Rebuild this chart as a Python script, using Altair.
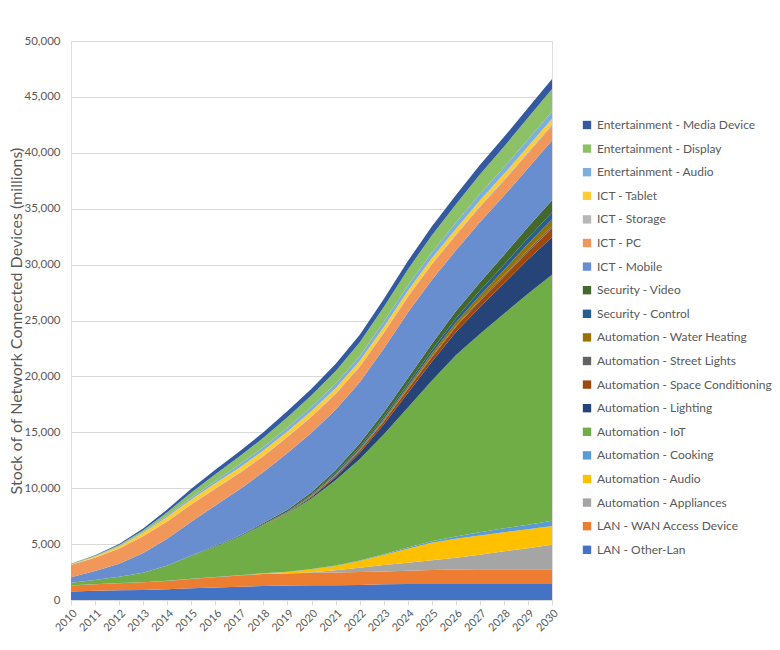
import altair as alt
import pandas as pd

years = list(range(2010, 2031))

lan_other = [750, 820, 870, 900, 960, 1040, 1110, 1180, 1260, 1290, 1310, 1320, 1340, 1400, 1420, 1430, 1430, 1430, 1430, 1430, 1430]
lan_wan = [550, 580, 630, 680, 740, 830, 930, 1010, 1070, 1090, 1130, 1140, 1160, 1160, 1200, 1250, 1290, 1310, 1330, 1330, 1330]
auto_appliances = [0, 0, 0, 0, 0, 0, 0, 0, 0, 0, 50, 200, 380, 560, 720, 880, 1050, 1300, 1600, 1880, 2180]
auto_audio = [0, 0, 0, 0, 0, 0, 0, 0, 30, 120, 250, 380, 600, 900, 1250, 1550, 1700, 1720, 1700, 1680, 1670]
auto_cooking = [10, 10, 10, 15, 15, 20, 20, 25, 30, 30, 40, 50, 60, 80, 110, 150, 220, 290, 350, 420, 470]
auto_iot = [240, 380, 570, 845, 1355, 2040, 2700, 3415, 4310, 5210, 6300, 7620, 9060, 10700, 12500, 14340, 16210, 17750, 19190, 20660, 22020]
auto_lighting = [0, 0, 0, 0, 0, 0, 0, 0, 10, 30, 120, 280, 550, 900, 1300, 1700, 2050, 2400, 2700, 3050, 3350]
auto_space = [0, 0, 0, 0, 0, 0, 0, 0, 10, 40, 80, 130, 190, 250, 320, 390, 460, 540, 620, 710, 800]
auto_street = [0, 0, 0, 0, 0, 0, 0, 0, 0, 10, 20, 30, 40, 55, 65, 80, 90, 105, 120, 135, 150]
auto_water = [0, 0, 0, 0, 0, 0, 0, 0, 0, 20, 40, 70, 110, 160, 210, 270, 330, 400, 480, 560, 650]
sec_control = [0, 0, 0, 0, 0, 20, 30, 40, 60, 80, 100, 130, 170, 210, 250, 300, 350, 410, 470, 530, 600]
sec_video = [0, 0, 0, 0, 20, 40, 60, 80, 110, 150, 200, 260, 330, 400, 480, 560, 650, 750, 860, 980, 1100]
ict_mobile = [490, 800, 1170, 1760, 2390, 3000, 3600, 4140, 4550, 5080, 5330, 5400, 5460, 5690, 5870, 5720, 5430, 5390, 5300, 5250, 5350]
ict_pc = [1100, 1200, 1350, 1500, 1550, 1550, 1500, 1450, 1420, 1420, 1420, 1410, 1400, 1400, 1390, 1380, 1370, 1360, 1360, 1350, 1350]
ict_storage = [10, 10, 15, 20, 25, 30, 35, 40, 45, 50, 55, 60, 65, 70, 75, 80, 85, 90, 95, 100, 100]
ict_tablet = [30, 80, 180, 300, 380, 430, 450, 460, 460, 460, 460, 460, 460, 470, 470, 480, 480, 490, 490, 500, 500]
ent_audio = [20, 30, 50, 80, 120, 170, 220, 270, 320, 350, 380, 400, 430, 460, 490, 520, 550, 580, 600, 630, 650]
ent_display = [20, 40, 80, 150, 300, 450, 600, 720, 820, 920, 1020, 1120, 1220, 1320, 1420, 1530, 1640, 1750, 1850, 1930, 2000]
ent_media = [30, 50, 80, 150, 250, 330, 400, 450, 500, 550, 600, 640, 680, 720, 760, 790, 820, 840, 860, 880, 900]

# bottom-to-top stacking order
series_names = [
    "LAN - Other-Lan", "LAN - WAN Access Device", "Automation - Appliances",
    "Automation - Audio", "Automation - Cooking", "Automation - IoT",
    "Automation - Lighting", "Automation - Space Conditioning",
    "Automation - Street Lights", "Automation - Water Heating",
    "Security - Control", "Security - Video", "ICT - Mobile", "ICT - PC",
    "ICT - Storage", "ICT - Tablet", "Entertainment - Audio",
    "Entertainment - Display", "Entertainment - Media Device",
]
series_values = [
    lan_other, lan_wan, auto_appliances, auto_audio, auto_cooking, auto_iot,
    auto_lighting, auto_space, auto_street, auto_water, sec_control, sec_video,
    ict_mobile, ict_pc, ict_storage, ict_tablet, ent_audio, ent_display, ent_media,
]
series_colors = [
    "#4472C4", "#ED7D31", "#A5A5A5", "#FFC000", "#5B9BD5", "#70AD47",
    "#264478", "#9E480E", "#636363", "#997300", "#255E91", "#43682B",
    "#698ED0", "#F1975A", "#B7B7B7", "#FFCD33", "#7CAFDD", "#8CC168", "#335AA1",
]

rows = []
for idx, (name, vals) in enumerate(zip(series_names, series_values)):
    for yr, v in zip(years, vals):
        rows.append({"year": yr, "series": name, "value": v, "order": idx})
df = pd.DataFrame(rows)

legend_domain = list(reversed(series_names))
legend_colors = list(reversed(series_colors))

FONT = "Lato"
GREY = "#595959"

chart = alt.Chart(df).mark_area(interpolate="linear").encode(
    x=alt.X(
        "year:Q",
        scale=alt.Scale(domain=[2010, 2030], nice=False, zero=False),
        axis=alt.Axis(
            values=years, format="d", labelAngle=-45, title=None,
            grid=False, domainColor="#D9D9D9", tickColor="#D9D9D9",
            tickSize=5, labelColor=GREY, labelFontSize=11, labelFont=FONT,
            labelPadding=2, labelOverlap=False, labelBound=False,
        ),
    ),
    y=alt.Y(
        "value:Q",
        stack="zero",
        scale=alt.Scale(domain=[0, 50000], nice=False),
        axis=alt.Axis(
            values=list(range(0, 50001, 5000)), format=",d",
            title="Stock of of Network Connected Devices (millions)",
            titleFont=FONT, titleFontSize=16, titleFontWeight="normal",
            titleColor=GREY, titlePadding=0,
            labelColor=GREY, labelFontSize=11.5, labelFont=FONT,
            domain=False, ticks=False, labelPadding=11,
            grid=True, gridColor="#D9D9D9", gridWidth=1,
        ),
    ),
    color=alt.Color(
        "series:N",
        scale=alt.Scale(domain=legend_domain, range=legend_colors),
        legend=alt.Legend(
            title=None, orient="none", legendX=510, legendY=78,
            symbolType="square", symbolSize=70, symbolStrokeWidth=0,
            labelFont=FONT, labelFontSize=12, labelColor=GREY,
            rowPadding=11.6, labelLimit=300, symbolOffset=0,
        ),
    ),
    order=alt.Order("order:Q", sort="ascending"),
).properties(
    width=481,
    height=559,
    padding={"left": 0, "top": 27, "right": 0, "bottom": 5},
).configure_view(stroke=None).configure(background="white")

chart.save("out.html", embed_options={"renderer": "svg", "actions": False})
